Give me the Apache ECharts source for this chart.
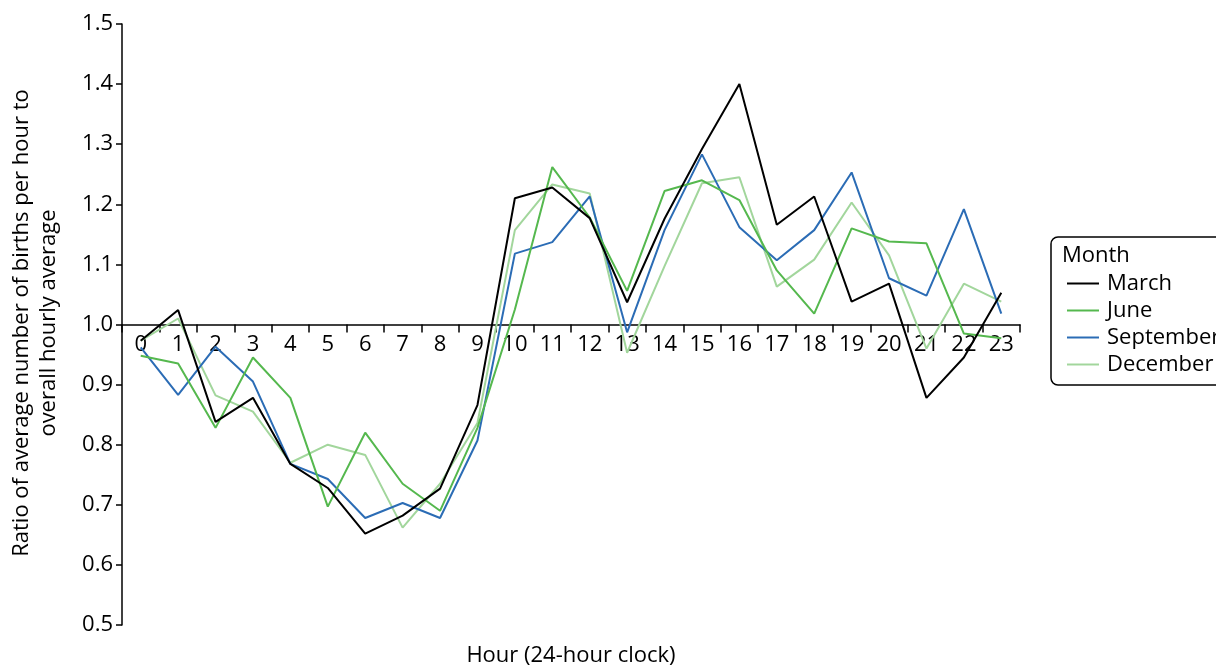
<!DOCTYPE html>
<html>
<head>
<meta charset="utf-8">
<script src="https://cdn.jsdelivr.net/npm/echarts@6/dist/echarts.min.js"></script>
<style>html,body{margin:0;padding:0;background:#fff;}#c{width:1216px;height:668px;}</style>
</head>
<body>
<div id="c"></div>
<script>
const hours = ['0','1','2','3','4','5','6','7','8','9','10','11','12','13','14','15','16','17','18','19','20','21','22','23'];
const march = [0.973,1.024,0.838,0.878,0.768,0.728,0.652,0.682,0.727,0.866,1.21,1.228,1.177,1.037,1.176,1.292,1.40,1.166,1.213,1.038,1.068,0.878,0.945,1.053];
const june = [0.948,0.935,0.828,0.945,0.878,0.697,0.82,0.735,0.69,0.828,1.025,1.262,1.178,1.056,1.222,1.24,1.207,1.09,1.018,1.16,1.138,1.135,0.985,0.977];
const september = [0.962,0.883,0.963,0.905,0.768,0.743,0.678,0.703,0.678,0.807,1.118,1.137,1.213,0.987,1.157,1.283,1.162,1.107,1.157,1.253,1.077,1.048,1.192,1.018];
const december = [0.973,1.01,0.882,0.855,0.77,0.8,0.783,0.662,0.735,0.836,1.157,1.233,1.218,0.953,1.097,1.235,1.245,1.063,1.108,1.203,1.115,0.96,1.068,1.038];
const seriesNames = ['March','June','September','December'];
const seriesColors = ['#000000','#55b84e','#2b6cb5','#a2d69c'];
const yMin = 0.5, yMax = 1.5, yStep = 0.1, baseline = 1.0;

const font = '"Open Sans", "Noto Sans", sans-serif';
const fs = 22;
const gridTop = 24, gridBottom = 43, H = 668;
const plotH = H - gridTop - gridBottom;
const baseOffset = -plotH * (baseline - yMin) / (yMax - yMin);

const chart = echarts.init(document.getElementById('c'), null, {renderer:'canvas'});
const datasets = [march, june, september, december];
chart.setOption({
  animation: false,
  backgroundColor: '#fff',
  grid: {left: 122, right: 196, top: gridTop, bottom: gridBottom, containLabel: false},
  xAxis: {
    type: 'category',
    data: hours,
    boundaryGap: true,
    position: 'bottom',
    offset: baseOffset,
    axisLine: {onZero: false, lineStyle: {color: '#000', width: 1.5}},
    axisTick: {show: true, inside: false, length: 8, lineStyle: {color: '#000', width: 1.5}},
    axisLabel: {color: '#000', fontSize: fs, fontFamily: font, margin: 9, interval: 0},
    splitLine: {show: false}
  },
  yAxis: {
    type: 'value',
    min: yMin, max: yMax, interval: yStep,
    axisLine: {show: true, lineStyle: {color: '#000', width: 1.5}},
    axisTick: {show: true, length: 6, lineStyle: {color: '#000', width: 1.5}},
    axisLabel: {color: '#000', fontSize: fs, fontFamily: font, margin: 9,
      formatter: v => v.toFixed(1)},
    splitLine: {show: false}
  },
  legend: {
    orient: 'vertical',
    left: 1062, top: 265,
    icon: 'rect',
    itemWidth: 32, itemHeight: 2, itemGap: 0,
    textStyle: {color: '#000', fontSize: fs, fontFamily: font, lineHeight: 27, padding: [0,0,0,3]},
    data: seriesNames
  },
  graphic: [
    {type: 'rect', shape: {x: 1051, y: 237, width: 190, height: 148, r: 7},
     style: {fill: 'none', stroke: '#000', lineWidth: 1.5}, z: 0},
    {type: 'text', x: 1062, y: 256, style: {text: 'Month', fill: '#000', font: fs + 'px ' + font, textVerticalAlign: 'middle'}},
    {type: 'text', x: 571, y: 656, style: {text: 'Hour (24-hour clock)', fill: '#000', font: fs + 'px ' + font, textAlign: 'center', textVerticalAlign: 'middle'}},
    {type: 'text', x: 35, y: 323, rotation: Math.PI/2,
     style: {text: 'Ratio of average number of births per hour to\noverall hourly average', fill: '#000', font: fs + 'px ' + font, textAlign: 'center', textVerticalAlign: 'middle', lineHeight: 27}}
  ],
  series: datasets.map((d, i) => ({
    name: seriesNames[i],
    type: 'line',
    data: d,
    symbol: 'none',
    lineStyle: {color: seriesColors[i], width: 2},
    itemStyle: {color: seriesColors[i]},
    z: 10 - i
  }))
});
</script>
</body>
</html>
